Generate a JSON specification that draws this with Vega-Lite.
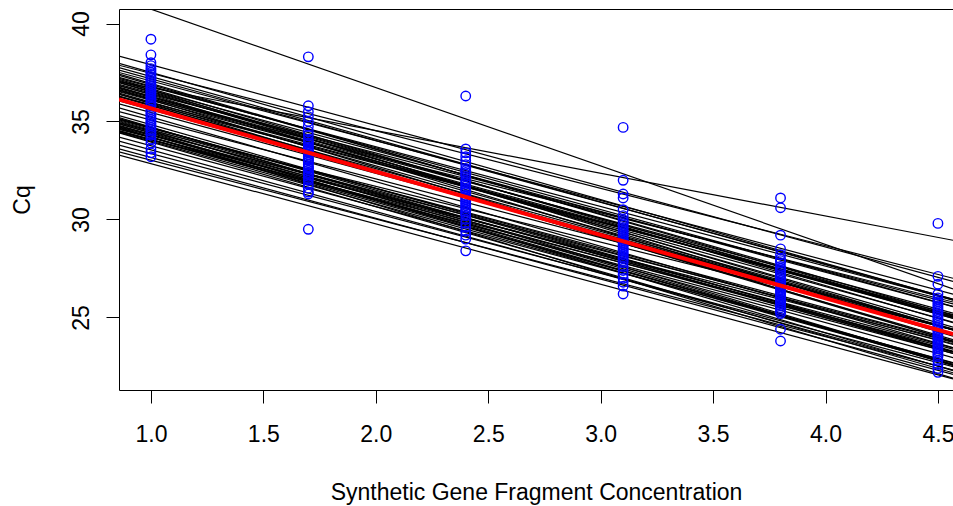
{
  "$schema": "https://vega.github.io/schema/vega-lite/v6.json",
  "width": 834,
  "height": 381,
  "autosize": "none",
  "padding": {"left": 119, "top": 9, "right": 0, "bottom": 116},
  "background": "white",
  "config": {
    "view": {"stroke": "black", "strokeWidth": 1},
    "font": "Liberation Sans",
    "axis": {
      "grid": false,
      "domain": false,
      "tickColor": "black",
      "tickSize": 13,
      "tickWidth": 1,
      "labelColor": "black",
      "labelFont": "Liberation Sans",
      "labelFontSize": 23,
      "titleColor": "black",
      "titleFont": "Liberation Sans",
      "titleFontSize": 23,
      "titleFontWeight": "normal"
    }
  },
  "datasets": {
    "lines": [
      {"id": 1, "x": 0.858, "cq": 41.30}, {"id": 1, "x": 4.567, "cq": 26.46},
      {"id": 2, "x": 0.858, "cq": 37.03}, {"id": 2, "x": 4.567, "cq": 28.94},
      {"id": 3, "x": 0.858, "cq": 37.87}, {"id": 3, "x": 4.567, "cq": 27.00},
      {"id": 4, "x": 0.858, "cq": 38.34}, {"id": 4, "x": 4.567, "cq": 26.84},
      {"id": 5, "x": 0.858, "cq": 37.97}, {"id": 5, "x": 4.567, "cq": 25.92},
      {"id": 6, "x": 0.858, "cq": 37.75}, {"id": 6, "x": 4.567, "cq": 25.88},
      {"id": 7, "x": 0.858, "cq": 37.50}, {"id": 7, "x": 4.567, "cq": 26.19},
      {"id": 8, "x": 0.858, "cq": 37.35}, {"id": 8, "x": 4.567, "cq": 25.11},
      {"id": 9, "x": 0.858, "cq": 37.25}, {"id": 9, "x": 4.567, "cq": 25.57},
      {"id": 10, "x": 0.858, "cq": 37.15}, {"id": 10, "x": 4.567, "cq": 24.73},
      {"id": 11, "x": 0.858, "cq": 37.05}, {"id": 11, "x": 4.567, "cq": 25.55},
      {"id": 12, "x": 0.858, "cq": 36.98}, {"id": 12, "x": 4.567, "cq": 24.37},
      {"id": 13, "x": 0.858, "cq": 36.90}, {"id": 13, "x": 4.567, "cq": 25.03},
      {"id": 14, "x": 0.858, "cq": 36.82}, {"id": 14, "x": 4.567, "cq": 25.69},
      {"id": 15, "x": 0.858, "cq": 36.75}, {"id": 15, "x": 4.567, "cq": 24.51},
      {"id": 16, "x": 0.858, "cq": 36.68}, {"id": 16, "x": 4.567, "cq": 24.96},
      {"id": 17, "x": 0.858, "cq": 36.60}, {"id": 17, "x": 4.567, "cq": 23.80},
      {"id": 18, "x": 0.858, "cq": 36.52}, {"id": 18, "x": 4.567, "cq": 25.02},
      {"id": 19, "x": 0.858, "cq": 36.45}, {"id": 19, "x": 4.567, "cq": 24.40},
      {"id": 20, "x": 0.858, "cq": 36.38}, {"id": 20, "x": 4.567, "cq": 25.07},
      {"id": 21, "x": 0.858, "cq": 36.30}, {"id": 21, "x": 4.567, "cq": 23.87},
      {"id": 22, "x": 0.858, "cq": 36.25}, {"id": 22, "x": 4.567, "cq": 24.38},
      {"id": 23, "x": 0.858, "cq": 35.90}, {"id": 23, "x": 4.567, "cq": 24.40},
      {"id": 24, "x": 0.858, "cq": 35.70}, {"id": 24, "x": 4.567, "cq": 23.46},
      {"id": 25, "x": 0.858, "cq": 35.50}, {"id": 25, "x": 4.567, "cq": 24.37},
      {"id": 26, "x": 0.858, "cq": 35.30}, {"id": 26, "x": 4.567, "cq": 23.25},
      {"id": 27, "x": 0.858, "cq": 35.15}, {"id": 27, "x": 4.567, "cq": 23.28},
      {"id": 28, "x": 0.858, "cq": 35.08}, {"id": 28, "x": 4.567, "cq": 23.77},
      {"id": 29, "x": 0.858, "cq": 35.00}, {"id": 29, "x": 4.567, "cq": 22.57},
      {"id": 30, "x": 0.858, "cq": 34.93}, {"id": 30, "x": 4.567, "cq": 23.25},
      {"id": 31, "x": 0.858, "cq": 34.86}, {"id": 31, "x": 4.567, "cq": 23.73},
      {"id": 32, "x": 0.858, "cq": 34.80}, {"id": 32, "x": 4.567, "cq": 22.56},
      {"id": 33, "x": 0.858, "cq": 34.73}, {"id": 33, "x": 4.567, "cq": 23.23},
      {"id": 34, "x": 0.858, "cq": 34.66}, {"id": 34, "x": 4.567, "cq": 22.61},
      {"id": 35, "x": 0.858, "cq": 34.60}, {"id": 35, "x": 4.567, "cq": 23.66},
      {"id": 36, "x": 0.858, "cq": 34.54}, {"id": 36, "x": 4.567, "cq": 22.67},
      {"id": 37, "x": 0.858, "cq": 34.48}, {"id": 37, "x": 4.567, "cq": 23.17},
      {"id": 38, "x": 0.858, "cq": 34.42}, {"id": 38, "x": 4.567, "cq": 22.18},
      {"id": 39, "x": 0.858, "cq": 34.20}, {"id": 39, "x": 4.567, "cq": 22.70},
      {"id": 40, "x": 0.858, "cq": 34.00}, {"id": 40, "x": 4.567, "cq": 22.32},
      {"id": 41, "x": 0.858, "cq": 33.80}, {"id": 41, "x": 4.567, "cq": 22.49},
      {"id": 42, "x": 0.858, "cq": 33.60}, {"id": 42, "x": 4.567, "cq": 22.10},
      {"id": 43, "x": 0.858, "cq": 33.45}, {"id": 43, "x": 4.567, "cq": 22.32},
      {"id": 44, "x": 0.858, "cq": 33.29}, {"id": 44, "x": 4.567, "cq": 21.87},
      {"id": 45, "x": 0.858, "cq": 37.10}, {"id": 45, "x": 4.567, "cq": 24.12},
      {"id": 46, "x": 0.858, "cq": 36.55}, {"id": 46, "x": 4.567, "cq": 25.79},
      {"id": 47, "x": 0.858, "cq": 34.95}, {"id": 47, "x": 4.567, "cq": 24.38},
      {"id": 48, "x": 0.858, "cq": 34.70}, {"id": 48, "x": 4.567, "cq": 21.90},
      {"id": 49, "x": 0.858, "cq": 36.05}, {"id": 49, "x": 4.567, "cq": 24.37},
      {"id": 50, "x": 0.858, "cq": 35.20}, {"id": 50, "x": 4.567, "cq": 22.59},
      {"id": 51, "x": 0.858, "cq": 37.62}, {"id": 51, "x": 4.567, "cq": 25.94},
      {"id": 52, "x": 0.858, "cq": 37.42}, {"id": 52, "x": 4.567, "cq": 25.00},
      {"id": 53, "x": 0.858, "cq": 37.20}, {"id": 53, "x": 4.567, "cq": 25.89},
      {"id": 54, "x": 0.858, "cq": 37.00}, {"id": 54, "x": 4.567, "cq": 24.95},
      {"id": 55, "x": 0.858, "cq": 36.85}, {"id": 55, "x": 4.567, "cq": 24.05},
      {"id": 56, "x": 0.858, "cq": 36.72}, {"id": 56, "x": 4.567, "cq": 25.22},
      {"id": 57, "x": 0.858, "cq": 36.63}, {"id": 57, "x": 4.567, "cq": 24.76},
      {"id": 58, "x": 0.858, "cq": 36.40}, {"id": 58, "x": 4.567, "cq": 23.79},
      {"id": 59, "x": 0.858, "cq": 36.28}, {"id": 59, "x": 4.567, "cq": 25.15},
      {"id": 60, "x": 0.858, "cq": 35.12}, {"id": 60, "x": 4.567, "cq": 23.62},
      {"id": 61, "x": 0.858, "cq": 35.04}, {"id": 61, "x": 4.567, "cq": 23.17},
      {"id": 62, "x": 0.858, "cq": 34.89}, {"id": 62, "x": 4.567, "cq": 22.28},
      {"id": 63, "x": 0.858, "cq": 34.76}, {"id": 63, "x": 4.567, "cq": 23.45},
      {"id": 64, "x": 0.858, "cq": 34.63}, {"id": 64, "x": 4.567, "cq": 22.95},
      {"id": 65, "x": 0.858, "cq": 34.51}, {"id": 65, "x": 4.567, "cq": 23.38},
      {"id": 66, "x": 0.858, "cq": 34.45}, {"id": 66, "x": 4.567, "cq": 22.58}
    ],
    "mean": [
      {"x": 0.858, "cq": 36.13}, {"x": 4.567, "cq": 24.15}
    ],
    "points": [
      {"x": 1.0, "cq": 39.2}, {"x": 1.0, "cq": 38.4}, {"x": 1.0, "cq": 38.0}, {"x": 1.0, "cq": 37.85}, {"x": 1.0, "cq": 37.7},
      {"x": 1.0, "cq": 37.6}, {"x": 1.0, "cq": 37.5}, {"x": 1.0, "cq": 37.4}, {"x": 1.0, "cq": 37.3}, {"x": 1.0, "cq": 37.2},
      {"x": 1.0, "cq": 37.1}, {"x": 1.0, "cq": 37.0}, {"x": 1.0, "cq": 36.9}, {"x": 1.0, "cq": 36.8}, {"x": 1.0, "cq": 36.7},
      {"x": 1.0, "cq": 36.6}, {"x": 1.0, "cq": 36.5}, {"x": 1.0, "cq": 36.4}, {"x": 1.0, "cq": 36.3}, {"x": 1.0, "cq": 36.2},
      {"x": 1.0, "cq": 36.1}, {"x": 1.0, "cq": 36.0}, {"x": 1.0, "cq": 35.9}, {"x": 1.0, "cq": 35.8}, {"x": 1.0, "cq": 35.6},
      {"x": 1.0, "cq": 35.5}, {"x": 1.0, "cq": 35.4}, {"x": 1.0, "cq": 35.3}, {"x": 1.0, "cq": 35.2}, {"x": 1.0, "cq": 35.1},
      {"x": 1.0, "cq": 35.0}, {"x": 1.0, "cq": 34.9}, {"x": 1.0, "cq": 34.8}, {"x": 1.0, "cq": 34.7}, {"x": 1.0, "cq": 34.6},
      {"x": 1.0, "cq": 34.5}, {"x": 1.0, "cq": 34.4}, {"x": 1.0, "cq": 34.3}, {"x": 1.0, "cq": 34.1}, {"x": 1.0, "cq": 33.9},
      {"x": 1.0, "cq": 33.6}, {"x": 1.0, "cq": 33.4}, {"x": 1.0, "cq": 33.2},
      {"x": 1.7, "cq": 38.3}, {"x": 1.7, "cq": 35.8}, {"x": 1.7, "cq": 35.5}, {"x": 1.7, "cq": 35.25}, {"x": 1.7, "cq": 35.0},
      {"x": 1.7, "cq": 34.75}, {"x": 1.7, "cq": 34.5}, {"x": 1.7, "cq": 34.3}, {"x": 1.7, "cq": 34.1}, {"x": 1.7, "cq": 34.0},
      {"x": 1.7, "cq": 33.9}, {"x": 1.7, "cq": 33.8}, {"x": 1.7, "cq": 33.7}, {"x": 1.7, "cq": 33.6}, {"x": 1.7, "cq": 33.5},
      {"x": 1.7, "cq": 33.45}, {"x": 1.7, "cq": 33.4}, {"x": 1.7, "cq": 33.3}, {"x": 1.7, "cq": 33.2}, {"x": 1.7, "cq": 33.1},
      {"x": 1.7, "cq": 33.05}, {"x": 1.7, "cq": 33.0}, {"x": 1.7, "cq": 32.9}, {"x": 1.7, "cq": 32.8}, {"x": 1.7, "cq": 32.7},
      {"x": 1.7, "cq": 32.65}, {"x": 1.7, "cq": 32.6}, {"x": 1.7, "cq": 32.5}, {"x": 1.7, "cq": 32.4}, {"x": 1.7, "cq": 32.35},
      {"x": 1.7, "cq": 32.3}, {"x": 1.7, "cq": 32.2}, {"x": 1.7, "cq": 32.1}, {"x": 1.7, "cq": 32.0}, {"x": 1.7, "cq": 31.8},
      {"x": 1.7, "cq": 31.6}, {"x": 1.7, "cq": 31.4}, {"x": 1.7, "cq": 31.3}, {"x": 1.7, "cq": 29.5},
      {"x": 2.4, "cq": 36.3}, {"x": 2.4, "cq": 33.6}, {"x": 2.4, "cq": 33.4}, {"x": 2.4, "cq": 33.2}, {"x": 2.4, "cq": 33.0},
      {"x": 2.4, "cq": 32.8}, {"x": 2.4, "cq": 32.6}, {"x": 2.4, "cq": 32.5}, {"x": 2.4, "cq": 32.4}, {"x": 2.4, "cq": 32.3},
      {"x": 2.4, "cq": 32.2}, {"x": 2.4, "cq": 32.0}, {"x": 2.4, "cq": 31.9}, {"x": 2.4, "cq": 31.8}, {"x": 2.4, "cq": 31.7},
      {"x": 2.4, "cq": 31.6}, {"x": 2.4, "cq": 31.5}, {"x": 2.4, "cq": 31.4}, {"x": 2.4, "cq": 31.2}, {"x": 2.4, "cq": 31.1},
      {"x": 2.4, "cq": 31.0}, {"x": 2.4, "cq": 30.9}, {"x": 2.4, "cq": 30.8}, {"x": 2.4, "cq": 30.7}, {"x": 2.4, "cq": 30.6},
      {"x": 2.4, "cq": 30.5}, {"x": 2.4, "cq": 30.4}, {"x": 2.4, "cq": 30.3}, {"x": 2.4, "cq": 30.2}, {"x": 2.4, "cq": 30.0},
      {"x": 2.4, "cq": 29.8}, {"x": 2.4, "cq": 29.6}, {"x": 2.4, "cq": 29.4}, {"x": 2.4, "cq": 29.2}, {"x": 2.4, "cq": 29.0},
      {"x": 2.4, "cq": 28.4},
      {"x": 3.1, "cq": 34.7}, {"x": 3.1, "cq": 32.0}, {"x": 3.1, "cq": 31.3}, {"x": 3.1, "cq": 31.1}, {"x": 3.1, "cq": 30.5},
      {"x": 3.1, "cq": 30.2}, {"x": 3.1, "cq": 30.0}, {"x": 3.1, "cq": 29.9}, {"x": 3.1, "cq": 29.8}, {"x": 3.1, "cq": 29.7},
      {"x": 3.1, "cq": 29.6}, {"x": 3.1, "cq": 29.5}, {"x": 3.1, "cq": 29.4}, {"x": 3.1, "cq": 29.3}, {"x": 3.1, "cq": 29.2},
      {"x": 3.1, "cq": 29.1}, {"x": 3.1, "cq": 29.0}, {"x": 3.1, "cq": 28.9}, {"x": 3.1, "cq": 28.8}, {"x": 3.1, "cq": 28.7},
      {"x": 3.1, "cq": 28.6}, {"x": 3.1, "cq": 28.5}, {"x": 3.1, "cq": 28.4}, {"x": 3.1, "cq": 28.3}, {"x": 3.1, "cq": 28.2},
      {"x": 3.1, "cq": 28.1}, {"x": 3.1, "cq": 28.0}, {"x": 3.1, "cq": 27.9}, {"x": 3.1, "cq": 27.8}, {"x": 3.1, "cq": 27.6},
      {"x": 3.1, "cq": 27.4}, {"x": 3.1, "cq": 27.2}, {"x": 3.1, "cq": 27.0}, {"x": 3.1, "cq": 26.8}, {"x": 3.1, "cq": 26.6},
      {"x": 3.1, "cq": 26.2},
      {"x": 3.8, "cq": 31.1}, {"x": 3.8, "cq": 30.6}, {"x": 3.8, "cq": 29.2}, {"x": 3.8, "cq": 28.5}, {"x": 3.8, "cq": 28.2},
      {"x": 3.8, "cq": 28.0}, {"x": 3.8, "cq": 27.9}, {"x": 3.8, "cq": 27.8}, {"x": 3.8, "cq": 27.6}, {"x": 3.8, "cq": 27.5},
      {"x": 3.8, "cq": 27.4}, {"x": 3.8, "cq": 27.3}, {"x": 3.8, "cq": 27.2}, {"x": 3.8, "cq": 27.1}, {"x": 3.8, "cq": 27.0},
      {"x": 3.8, "cq": 26.9}, {"x": 3.8, "cq": 26.8}, {"x": 3.8, "cq": 26.7}, {"x": 3.8, "cq": 26.6}, {"x": 3.8, "cq": 26.5},
      {"x": 3.8, "cq": 26.4}, {"x": 3.8, "cq": 26.3}, {"x": 3.8, "cq": 26.2}, {"x": 3.8, "cq": 26.1}, {"x": 3.8, "cq": 26.0},
      {"x": 3.8, "cq": 25.9}, {"x": 3.8, "cq": 25.8}, {"x": 3.8, "cq": 25.7}, {"x": 3.8, "cq": 25.6}, {"x": 3.8, "cq": 25.5},
      {"x": 3.8, "cq": 25.4}, {"x": 3.8, "cq": 25.3}, {"x": 3.8, "cq": 25.2}, {"x": 3.8, "cq": 24.4}, {"x": 3.8, "cq": 23.8},
      {"x": 4.5, "cq": 29.8}, {"x": 4.5, "cq": 27.1}, {"x": 4.5, "cq": 26.7}, {"x": 4.5, "cq": 26.2}, {"x": 4.5, "cq": 26.0},
      {"x": 4.5, "cq": 25.9}, {"x": 4.5, "cq": 25.8}, {"x": 4.5, "cq": 25.7}, {"x": 4.5, "cq": 25.6}, {"x": 4.5, "cq": 25.5},
      {"x": 4.5, "cq": 25.4}, {"x": 4.5, "cq": 25.3}, {"x": 4.5, "cq": 25.2}, {"x": 4.5, "cq": 25.1}, {"x": 4.5, "cq": 25.0},
      {"x": 4.5, "cq": 24.9}, {"x": 4.5, "cq": 24.8}, {"x": 4.5, "cq": 24.7}, {"x": 4.5, "cq": 24.6}, {"x": 4.5, "cq": 24.5},
      {"x": 4.5, "cq": 24.4}, {"x": 4.5, "cq": 24.3}, {"x": 4.5, "cq": 24.2}, {"x": 4.5, "cq": 24.1}, {"x": 4.5, "cq": 24.0},
      {"x": 4.5, "cq": 23.9}, {"x": 4.5, "cq": 23.8}, {"x": 4.5, "cq": 23.7}, {"x": 4.5, "cq": 23.6}, {"x": 4.5, "cq": 23.5},
      {"x": 4.5, "cq": 23.4}, {"x": 4.5, "cq": 23.3}, {"x": 4.5, "cq": 23.2}, {"x": 4.5, "cq": 23.1}, {"x": 4.5, "cq": 23.0},
      {"x": 4.5, "cq": 22.8}, {"x": 4.5, "cq": 22.6}, {"x": 4.5, "cq": 22.4}, {"x": 4.5, "cq": 22.2}
    ]
  },
  "encoding": {
    "x": {
      "field": "x",
      "type": "quantitative",
      "scale": {"domain": [0.858, 4.567], "nice": false, "zero": false},
      "axis": {
        "values": [1.0, 1.5, 2.0, 2.5, 3.0, 3.5, 4.0, 4.5],
        "format": ".1f",
        "labelPadding": 20,
        "labelBaseline": "top",
        "title": "Synthetic Gene Fragment Concentration",
        "titleY": 109,
        "titleBaseline": "alphabetic"
      }
    },
    "y": {
      "field": "cq",
      "type": "quantitative",
      "scale": {"domain": [21.3, 40.74], "nice": false, "zero": false},
      "axis": {
        "values": [25, 30, 35, 40],
        "labelAngle": 270,
        "labelAlign": "center",
        "labelBaseline": "alphabetic",
        "labelPadding": 18,
        "title": "Cq",
        "titleAngle": 270,
        "titleX": -97,
        "titleY": 190.5,
        "titleAlign": "center",
        "titleBaseline": "middle"
      }
    }
  },
  "layer": [
    {
      "data": {"name": "lines"},
      "mark": {"type": "line", "color": "black", "strokeWidth": 1.2, "clip": true},
      "encoding": {"detail": {"field": "id", "type": "nominal"}}
    },
    {
      "data": {"name": "points"},
      "mark": {"type": "point", "shape": "circle", "filled": false, "color": "#0000FF", "strokeWidth": 1.4, "size": 90, "opacity": 1}
    },
    {
      "data": {"name": "mean"},
      "mark": {"type": "line", "color": "#FF0000", "strokeWidth": 4, "clip": true}
    }
  ]
}
